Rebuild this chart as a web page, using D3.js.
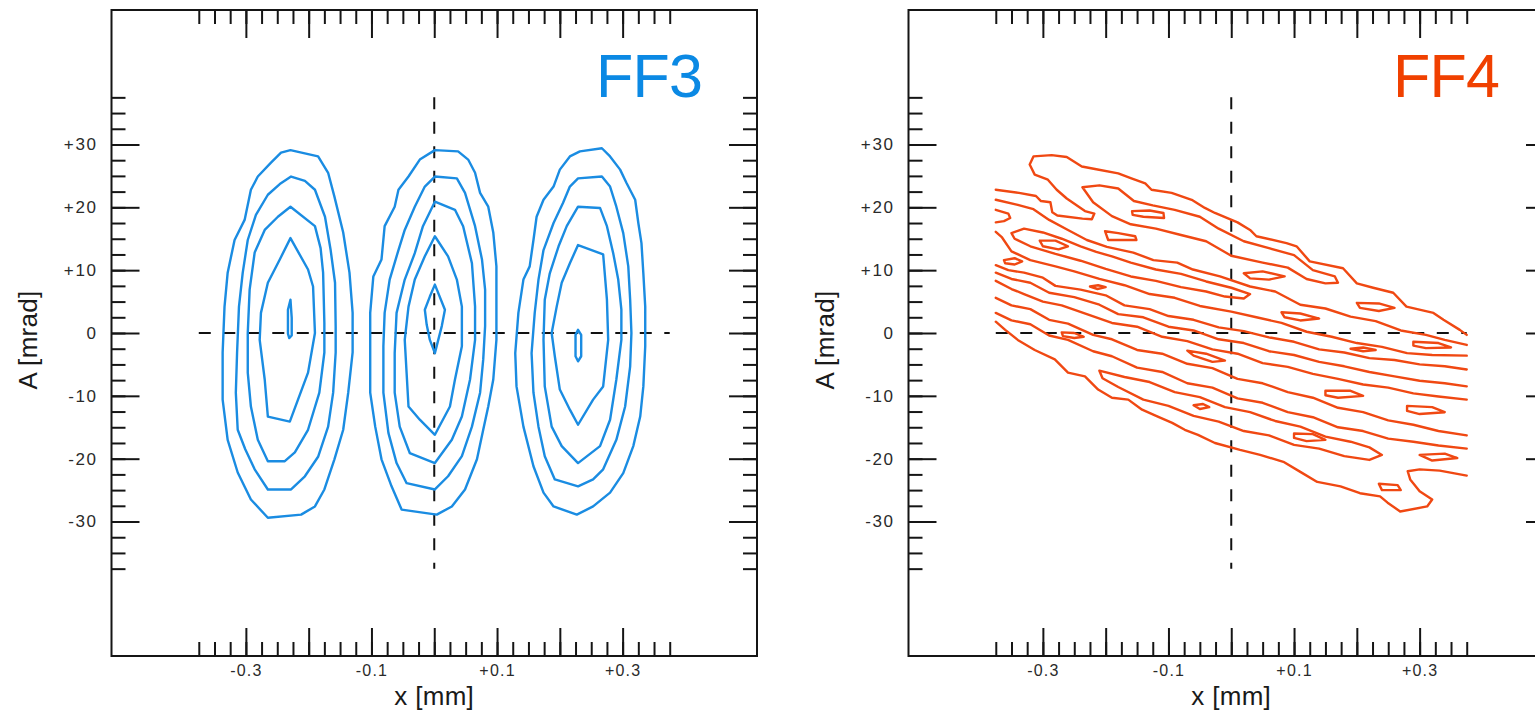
<!DOCTYPE html>
<html>
<head>
<meta charset="utf-8">
<script src="https://cdn.jsdelivr.net/npm/d3@7"></script>
<style>
  body{margin:0;background:#fff;}
  svg{display:block;}
</style>
</head>
<body>
<svg id="chart" width="1535" height="715"></svg>
<script>
// tick values
var xMajor = [-0.3, -0.2, -0.1, 0, 0.1, 0.2, 0.3];
var xLabelled = [-0.3, -0.1, 0.1, 0.3];
var yMajor = [-30, -20, -10, 0, 10, 20, 30];
var xMinor = d3.range(-15, 16).map(function(i){ return i * 0.025; });
var yMinor = d3.range(-15, 16).map(function(i){ return i * 2.5; });

// FF3 : three beamlets, each a set of closed contours [x mm, A mrad]
var ff3Left = [
  [[-0.229,29.1],[-0.185,28.1],[-0.169,25.5],[-0.159,21.7],[-0.145,16.0],[-0.135,9.6],[-0.130,3.2],[-0.130,-3.1],[-0.137,-9.5],[-0.145,-15.4],[-0.159,-20.1],[-0.175,-24.9],[-0.190,-27.6],[-0.212,-28.9],[-0.265,-29.4],[-0.292,-26.5],[-0.313,-22.2],[-0.329,-17.0],[-0.337,-10.6],[-0.337,-3.1],[-0.334,4.2],[-0.329,9.6],[-0.318,14.8],[-0.302,18.0],[-0.292,22.8],[-0.281,24.9],[-0.260,27.1],[-0.244,28.7]],
  [[-0.228,24.9],[-0.206,24.2],[-0.190,22.8],[-0.174,18.5],[-0.165,13.2],[-0.158,8.0],[-0.157,1.0],[-0.157,-3.1],[-0.161,-9.5],[-0.169,-14.9],[-0.185,-19.7],[-0.206,-22.8],[-0.228,-24.9],[-0.265,-24.9],[-0.286,-21.7],[-0.301,-18.5],[-0.313,-15.4],[-0.316,-9.5],[-0.314,-3.1],[-0.311,4.2],[-0.305,9.6],[-0.297,14.8],[-0.284,18.8],[-0.265,22.0],[-0.246,23.7]],
  [[-0.229,20.1],[-0.190,17.0],[-0.181,13.5],[-0.177,9.6],[-0.175,1.6],[-0.175,-3.1],[-0.183,-9.5],[-0.201,-15.4],[-0.222,-19.0],[-0.238,-20.4],[-0.265,-20.4],[-0.281,-17.0],[-0.292,-11.7],[-0.297,-6.3],[-0.297,0.0],[-0.294,6.9],[-0.286,12.8],[-0.270,16.4],[-0.249,18.5]],
  [[-0.229,15.1],[-0.201,10.1],[-0.193,7.4],[-0.190,0.0],[-0.201,-6.3],[-0.230,-14.1],[-0.265,-13.3],[-0.270,-7.4],[-0.278,-1.1],[-0.276,3.2],[-0.265,8.0],[-0.246,11.7]],
  [[-0.229,5.3],[-0.227,2.4],[-0.227,-0.4],[-0.231,-0.8],[-0.233,-0.1],[-0.233,3.7]]
];
var ff3Center = [
  [[0.001,29.1],[0.038,28.9],[0.054,27.6],[0.065,25.5],[0.073,22.3],[0.086,20.1],[0.094,16.0],[0.099,10.6],[0.099,4.2],[0.099,-1.1],[0.094,-7.4],[0.086,-11.7],[0.078,-15.4],[0.068,-20.1],[0.049,-24.9],[0.028,-27.6],[0.004,-28.9],[-0.052,-28.1],[-0.068,-24.4],[-0.084,-20.1],[-0.094,-14.9],[-0.102,-9.5],[-0.102,-3.1],[-0.102,3.2],[-0.097,9.0],[-0.084,11.7],[-0.079,17.0],[-0.063,20.1],[-0.057,22.8],[-0.041,24.9],[-0.023,27.6]],
  [[0.001,24.9],[0.036,24.6],[0.049,22.3],[0.065,17.0],[0.076,11.7],[0.081,6.9],[0.081,1.1],[0.078,-4.2],[0.073,-9.5],[0.060,-14.9],[0.044,-19.6],[0.022,-22.8],[0.001,-24.9],[-0.044,-23.9],[-0.060,-20.7],[-0.073,-15.9],[-0.081,-9.5],[-0.081,-2.1],[-0.079,3.2],[-0.071,8.5],[-0.057,13.2],[-0.047,16.4],[-0.031,20.1],[-0.015,23.3]],
  [[0.001,20.9],[0.033,19.6],[0.046,17.0],[0.060,11.1],[0.065,4.2],[0.065,-1.1],[0.057,-7.4],[0.044,-13.3],[0.028,-17.0],[0.001,-20.7],[-0.039,-19.1],[-0.055,-14.9],[-0.063,-9.5],[-0.063,-3.2],[-0.060,3.2],[-0.047,8.5],[-0.031,12.7],[-0.018,17.0]],
  [[0.001,15.4],[0.022,12.2],[0.036,8.5],[0.044,4.2],[0.044,-2.1],[0.033,-7.4],[0.025,-11.7],[0.001,-16.2],[-0.023,-13.8],[-0.041,-11.7],[-0.044,-6.4],[-0.047,-1.1],[-0.041,4.2],[-0.031,8.5],[-0.015,12.2]],
  [[0.001,7.7],[0.017,3.7],[0.012,1.1],[0.001,-3.2],[-0.007,-1.1],[-0.012,1.3],[-0.015,3.7],[-0.007,5.8]]
];
var ff3Right = [
  [[0.267,29.4],[0.280,28.1],[0.296,26.0],[0.306,23.9],[0.320,21.2],[0.325,17.5],[0.330,14.3],[0.333,9.5],[0.336,4.2],[0.336,-2.1],[0.333,-8.5],[0.328,-13.3],[0.317,-18.0],[0.301,-22.3],[0.280,-25.4],[0.253,-27.6],[0.227,-28.9],[0.190,-27.6],[0.174,-25.4],[0.158,-21.2],[0.142,-14.9],[0.131,-8.5],[0.129,-3.2],[0.134,3.2],[0.142,8.5],[0.152,10.6],[0.158,14.8],[0.163,18.5],[0.174,21.2],[0.190,23.3],[0.200,26.0],[0.216,28.1],[0.232,28.9]],
  [[0.229,24.6],[0.267,24.9],[0.280,23.3],[0.290,20.1],[0.301,15.9],[0.309,10.6],[0.312,5.3],[0.314,0.0],[0.312,-5.3],[0.304,-11.7],[0.290,-17.0],[0.269,-21.7],[0.253,-23.3],[0.229,-24.4],[0.192,-23.3],[0.176,-19.6],[0.166,-14.9],[0.158,-9.5],[0.155,-3.2],[0.160,3.2],[0.166,8.5],[0.174,13.2],[0.190,17.5],[0.205,20.7],[0.216,23.3]],
  [[0.229,20.1],[0.264,19.9],[0.275,17.0],[0.285,12.7],[0.293,8.5],[0.298,3.7],[0.298,-1.1],[0.290,-7.4],[0.280,-13.8],[0.264,-18.0],[0.229,-20.7],[0.203,-18.0],[0.187,-14.9],[0.176,-8.5],[0.174,-1.1],[0.176,5.3],[0.184,9.5],[0.198,13.8],[0.211,17.0]],
  [[0.229,14.0],[0.269,12.5],[0.275,5.3],[0.277,-1.1],[0.269,-8.5],[0.253,-10.6],[0.229,-14.6],[0.216,-12.2],[0.200,-9.0],[0.192,-3.7],[0.187,0.0],[0.195,4.2],[0.203,8.0],[0.216,11.1]],
  [[0.229,0.5],[0.234,-0.3],[0.234,-3.7],[0.229,-4.5],[0.225,-3.7],[0.225,-0.3]]
];

// FF4 : open contours running across the band (edge to edge)
var ff4Open = [
  [[-0.375,22.8],[-0.338,22.3],[-0.311,21.8],[-0.303,21.0],[-0.288,20.8],[-0.285,19.2],[-0.277,18.7],[-0.237,18.2],[-0.222,18.1],[-0.218,19.0],[-0.233,19.4],[-0.262,21.4],[-0.278,22.8],[-0.292,24.4],[-0.313,25.2],[-0.321,26.8],[-0.315,28.1],[-0.286,28.3],[-0.262,28.0],[-0.238,26.5],[-0.217,26.1],[-0.180,25.4],[-0.159,24.6],[-0.137,23.8],[-0.127,22.8],[-0.095,22.3],[-0.063,21.2],[-0.042,19.9],[-0.026,19.1],[0.010,17.6],[0.030,16.4],[0.040,15.4],[0.088,14.3],[0.104,13.8],[0.125,11.4],[0.178,10.3],[0.200,7.9],[0.226,7.2],[0.258,6.4],[0.279,4.2],[0.322,3.2],[0.338,2.1],[0.364,0.5],[0.375,-0.3]],
  [[-0.375,19.6],[-0.355,19.0],[-0.352,18.3],[-0.362,17.8],[-0.375,17.6]],
  [[-0.375,21.2],[-0.34,20.4],[-0.315,19.7],[-0.29,18.0],[-0.26,16.4],[-0.23,14.8],[-0.198,13.7],[-0.156,12.8],[-0.124,11.6],[-0.086,11.2],[-0.061,10.1],[-0.018,9.0],[0.03,7.4],[0.07,6.6],[0.11,4.5],[0.15,3.9],[0.19,2.6],[0.23,1.9],[0.27,0.4],[0.31,-0.3],[0.34,-1.1],[0.375,-1.9]],
  [[-0.375,16.1],[-0.365,15.2],[-0.35,13.0],[-0.32,11.6],[-0.28,10.6],[-0.25,9.8],[-0.21,8.6],[-0.17,7.6],[-0.13,6.2],[-0.09,5.6],[-0.05,4.3],[0.0,3.4],[0.04,2.5],[0.08,1.6],[0.12,0.2],[0.16,-0.6],[0.2,-1.6],[0.24,-2.2],[0.28,-3.2],[0.32,-3.5],[0.375,-3.6]],
  [[-0.375,10.8],[-0.355,10.0],[-0.33,9.6],[-0.30,8.8],[-0.28,7.5],[-0.24,6.9],[-0.20,6.0],[-0.17,4.4],[-0.13,3.8],[-0.10,2.7],[-0.06,2.1],[-0.02,0.9],[0.02,0.3],[0.06,-0.7],[0.10,-1.4],[0.14,-2.6],[0.18,-3.1],[0.22,-4.0],[0.26,-4.3],[0.30,-5.0],[0.34,-5.3],[0.375,-5.8]],
  [[-0.375,9.6],[-0.35,8.6],[-0.32,8.0],[-0.29,6.4],[-0.25,5.7],[-0.21,4.5],[-0.18,3.0],[-0.14,2.5],[-0.10,1.0],[-0.06,0.4],[-0.02,-1.0],[0.02,-1.6],[0.06,-2.9],[0.10,-3.5],[0.14,-4.6],[0.18,-5.3],[0.22,-6.2],[0.26,-6.9],[0.30,-7.6],[0.34,-8.0],[0.375,-8.5]],
  [[-0.375,8.3],[-0.35,7.0],[-0.33,6.2],[-0.30,5.0],[-0.27,4.4],[-0.23,3.0],[-0.19,1.6],[-0.15,1.0],[-0.11,-0.6],[-0.07,-1.3],[-0.03,-2.6],[0.01,-3.3],[0.05,-4.8],[0.09,-5.4],[0.13,-6.5],[0.17,-7.3],[0.21,-8.2],[0.25,-8.7],[0.29,-9.6],[0.33,-10.1],[0.375,-10.6]],
  [[-0.375,5.6],[-0.35,4.4],[-0.32,3.8],[-0.29,2.1],[-0.26,1.5],[-0.22,-0.3],[-0.19,-1.0],[-0.15,-2.7],[-0.11,-3.3],[-0.07,-4.9],[-0.03,-5.6],[0.01,-7.3],[0.05,-8.0],[0.09,-9.4],[0.13,-10.3],[0.17,-11.9],[0.21,-12.6],[0.25,-13.9],[0.29,-14.6],[0.33,-15.6],[0.375,-16.3]],
  [[-0.375,3.2],[-0.35,2.0],[-0.32,1.4],[-0.29,-0.4],[-0.26,-1.1],[-0.22,-2.9],[-0.19,-3.7],[-0.15,-5.5],[-0.11,-6.2],[-0.07,-8.0],[-0.03,-8.7],[0.01,-10.4],[0.05,-11.1],[0.09,-12.6],[0.13,-13.4],[0.17,-15.0],[0.21,-15.6],[0.25,-16.8],[0.29,-17.3],[0.33,-17.9],[0.375,-18.4]],
  [[-0.375,1.8],[-0.360,0.5],[-0.340,-1.1],[-0.313,-2.7],[-0.281,-4.2],[-0.260,-6.3],[-0.233,-6.9],[-0.212,-9.0],[-0.190,-10.3],[-0.164,-10.6],[-0.142,-12.2],[-0.117,-13.3],[-0.094,-14.3],[-0.074,-15.4],[-0.053,-16.2],[-0.026,-17.5],[0.014,-18.6],[0.046,-19.4],[0.083,-20.5],[0.110,-22.1],[0.137,-23.7],[0.174,-24.4],[0.205,-25.5],[0.237,-26.0],[0.249,-27.0],[0.269,-28.4],[0.312,-27.6],[0.320,-26.5],[0.300,-25.2],[0.285,-23.3],[0.281,-22.0],[0.300,-21.7],[0.332,-21.9],[0.375,-22.7]]
];

// FF4 : closed loops and islands inside the band
var ff4Closed = [
  [[-0.237,23.2],[-0.21,23.5],[-0.18,23.0],[-0.155,21.0],[-0.125,20.3],[-0.09,19.6],[-0.05,18.5],[-0.02,16.6],[0.02,14.6],[0.06,13.5],[0.10,12.4],[0.13,10.0],[0.165,9.0],[0.17,8.0],[0.15,7.9],[0.12,8.6],[0.09,10.4],[0.05,11.2],[0.0,12.3],[-0.04,14.6],[-0.08,15.6],[-0.12,16.6],[-0.16,17.3],[-0.19,18.6],[-0.22,20.8]],
  [[-0.35,15.9],[-0.33,16.6],[-0.30,16.0],[-0.27,15.0],[-0.24,13.8],[-0.215,12.9],[-0.19,12.2],[-0.16,11.2],[-0.12,10.1],[-0.08,9.4],[-0.04,8.2],[0.0,7.2],[0.03,6.2],[0.02,5.5],[-0.01,5.8],[-0.04,6.6],[-0.08,7.3],[-0.12,8.3],[-0.16,9.0],[-0.20,10.2],[-0.24,11.5],[-0.28,12.6],[-0.32,13.8],[-0.345,15.0]],
  [[-0.21,-6.0],[-0.17,-7.0],[-0.13,-7.8],[-0.09,-9.4],[-0.05,-10.2],[-0.01,-11.8],[0.03,-12.6],[0.07,-14.0],[0.11,-14.9],[0.15,-16.5],[0.19,-17.3],[0.22,-18.2],[0.24,-19.4],[0.22,-20.2],[0.18,-19.6],[0.14,-18.4],[0.10,-17.8],[0.06,-16.3],[0.02,-15.6],[-0.02,-14.1],[-0.06,-13.2],[-0.10,-11.6],[-0.14,-10.6],[-0.18,-8.6],[-0.205,-7.2]],
  [[-0.158,19.4],[-0.13,19.5],[-0.108,19.1],[-0.107,18.3],[-0.14,18.5],[-0.157,18.8]],
  [[-0.201,16.2],[-0.18,15.9],[-0.153,15.4],[-0.151,14.8],[-0.196,14.8]],
  [[-0.362,11.6],[-0.345,11.9],[-0.333,11.4],[-0.345,10.9],[-0.36,11.1]],
  [[-0.305,14.7],[-0.28,14.7],[-0.26,13.8],[-0.275,13.3],[-0.30,13.8]],
  [[-0.225,7.4],[-0.212,7.6],[-0.2,7.3],[-0.213,7.0]],
  [[0.02,9.5],[0.05,9.8],[0.085,9.0],[0.06,8.5],[0.03,8.7]],
  [[0.20,4.8],[0.235,4.7],[0.26,4.0],[0.235,3.5],[0.205,4.0]],
  [[0.08,3.3],[0.11,3.1],[0.14,2.3],[0.11,2.0],[0.085,2.5]],
  [[0.29,-1.4],[0.33,-1.6],[0.35,-2.3],[0.31,-2.4],[0.29,-2.0]],
  [[-0.07,-2.8],[-0.04,-3.3],[-0.01,-4.4],[-0.03,-4.6],[-0.06,-3.6]],
  [[0.15,-9.2],[0.19,-9.2],[0.21,-10.0],[0.17,-10.3],[0.15,-9.9]],
  [[0.28,-11.6],[0.32,-11.8],[0.34,-12.6],[0.30,-12.9],[0.28,-12.4]],
  [[-0.06,-11.5],[-0.045,-11.3],[-0.035,-11.8],[-0.05,-12.1]],
  [[0.1,-16.0],[0.13,-16.1],[0.15,-17.0],[0.12,-17.2],[0.1,-16.7]],
  [[0.30,-19.4],[0.34,-19.2],[0.36,-19.9],[0.32,-20.3]],
  [[0.235,-24.0],[0.265,-24.2],[0.27,-25.0],[0.24,-25.0]],
  [[-0.27,0.1],[-0.25,0.0],[-0.235,-0.6],[-0.25,-0.8],[-0.268,-0.5]],
  [[0.19,-2.5],[0.21,-2.3],[0.23,-2.7],[0.21,-2.9]]
];

var panels = [
  {name: 'FF3', dx: 0, color: '#1a8ce2', text: '#0b89e4',
   open: [], closed: ff3Left.concat(ff3Center, ff3Right)},
  {name: 'FF4', dx: 797, color: '#f04812', text: '#f04000',
   open: ff4Open, closed: ff4Closed}
];

var frame = {left: 111.5, top: 10, right: 757, bottom: 656};
var x = d3.scaleLinear().domain([-0.514, 0.514]).range([frame.left, frame.right]);
var y = d3.scaleLinear().domain([-51.4, 51.4]).range([frame.bottom, frame.top]);
var font = '"Liberation Sans", Arial, Helvetica, sans-serif';

var svg = d3.select('#chart');
svg.append('rect').attr('width', 1535).attr('height', 715).attr('fill', '#fff');

function signed(d){ return d > 0 ? '+' + d : String(d); }

function drawAxes(g){
  var defs = [
    {axis: d3.axisBottom, pos: 'translate(0,' + frame.bottom + ')', scale: x, minor: xMinor, major: xMajor, label: true},
    {axis: d3.axisTop, pos: 'translate(0,' + frame.top + ')', scale: x, minor: xMinor, major: xMajor, label: false},
    {axis: d3.axisLeft, pos: 'translate(' + frame.left + ',0)', scale: y, minor: yMinor, major: yMajor, label: true},
    {axis: d3.axisRight, pos: 'translate(' + frame.right + ',0)', scale: y, minor: yMinor, major: yMajor, label: false}
  ];
  defs.forEach(function(a){
    var isX = a.scale === x;
    g.append('g').attr('transform', a.pos)
      .call(a.axis(a.scale).tickValues(a.minor).tickSize(-14).tickSizeOuter(0).tickFormat(''));
    g.append('g').attr('transform', a.pos)
      .attr('class', a.label ? (isX ? 'xlab' : 'ylab') : '')
      .call(a.axis(a.scale).tickValues(a.major).tickSize(-28).tickSizeOuter(0)
        .tickPadding(isX ? 9 : 14)
        .tickFormat(function(d){
          if(!a.label) return '';
          if(isX) return xLabelled.indexOf(d) >= 0 ? signed(d) : '';
          return signed(d);
        }));
  });
  g.selectAll('.domain').remove();
  g.selectAll('.tick line').attr('stroke', '#151515').attr('stroke-width', 2);
  g.selectAll('.tick text').attr('fill', '#2a2a2a').attr('font-family', font);
  g.selectAll('.xlab').attr('font-size', 16);
  g.selectAll('.ylab').attr('font-size', 17);
  g.selectAll('.xlab .tick text').attr('font-size', 16).attr('letter-spacing', 1.2);
  g.selectAll('.ylab .tick text').attr('font-size', 17).attr('letter-spacing', 1.6);
}

var line = d3.line().x(function(d){ return x(d[0]); }).y(function(d){ return y(d[1]); });
var loop = d3.line().x(function(d){ return x(d[0]); }).y(function(d){ return y(d[1]); })
  .curve(d3.curveLinearClosed);

panels.forEach(function(p){
  var g = svg.append('g').attr('transform', 'translate(' + p.dx + ',0)');

  // frame
  g.append('rect')
    .attr('x', frame.left).attr('y', frame.top)
    .attr('width', frame.right - frame.left).attr('height', frame.bottom - frame.top)
    .attr('fill', 'none').attr('stroke', '#151515').attr('stroke-width', 2);

  drawAxes(g);

  // dashed cross through the origin
  g.append('line')
    .attr('x1', x(-0.375)).attr('x2', x(0.375)).attr('y1', y(0)).attr('y2', y(0))
    .attr('stroke', '#111').attr('stroke-width', 2).attr('stroke-dasharray', '12,12.5');
  g.append('line')
    .attr('x1', x(0)).attr('x2', x(0)).attr('y1', y(37.5)).attr('y2', y(-37.5))
    .attr('stroke', '#111').attr('stroke-width', 2).attr('stroke-dasharray', '12,12.5');

  // contours
  var c = g.append('g').attr('fill', 'none').attr('stroke', p.color)
    .attr('stroke-width', 2.4).attr('stroke-linejoin', 'round').attr('stroke-linecap', 'round');
  c.selectAll('path.open').data(p.open).enter().append('path')
    .attr('class', 'open').attr('d', line);
  c.selectAll('path.closed').data(p.closed).enter().append('path')
    .attr('class', 'closed').attr('d', loop);

  // titles
  g.append('text').attr('x', 596).attr('y', 97)
    .attr('font-family', font).attr('font-size', 61).attr('textLength', 107)
    .attr('fill', p.text).text(p.name);
  g.append('text').attr('x', x(0)).attr('y', 705).attr('text-anchor', 'middle')
    .attr('font-family', font).attr('font-size', 26).attr('letter-spacing', 0.3)
    .attr('fill', '#1a1a1a').text('x [mm]');
  g.append('text').attr('transform', 'translate(37,340) rotate(-90)').attr('text-anchor', 'middle')
    .attr('font-family', font).attr('font-size', 26).attr('letter-spacing', 0.3)
    .attr('fill', '#1a1a1a').text('A [mrad]');
});
</script>
</body>
</html>
